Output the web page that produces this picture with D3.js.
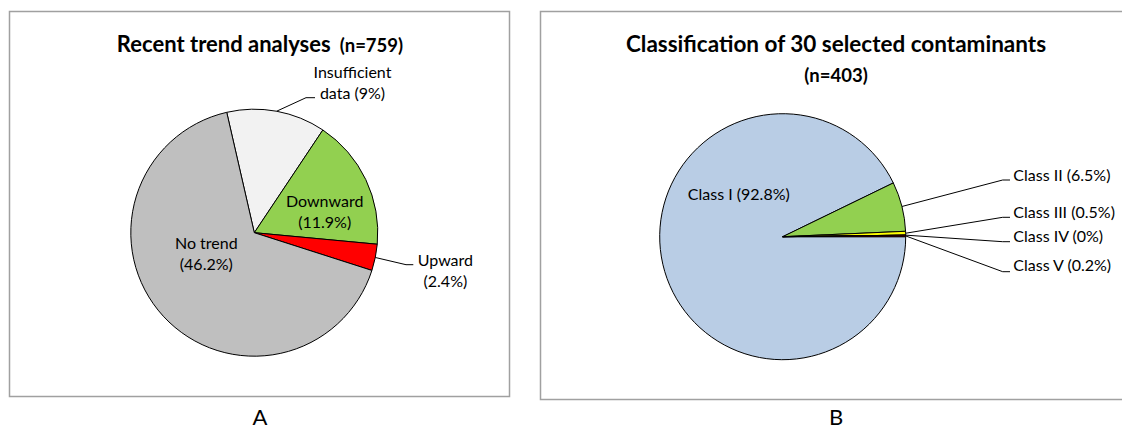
<!DOCTYPE html>
<html>
<head>
<meta charset="utf-8">
<script src="https://cdn.jsdelivr.net/npm/d3@7"></script>
<style>
  body { margin: 0; background: #fff; }
  text { font-family: Lato, "Open Sans", sans-serif; fill: #000; }
</style>
</head>
<body>
<div class="figure"></div>
<script>
// values
const trendLabels = ["Insufficient data", "Downward", "Upward", "No trend"];
const trendValues = [9, 11.9, 2.4, 46.2];
const trendColors = ["#f2f2f2", "#92d050", "#ff0000", "#bfbfbf"];

const classLabels = ["Class I", "Class II", "Class III", "Class IV", "Class V"];
const classValues = [92.8, 6.5, 0.5, 0, 0.2];
const classColors = ["#b9cde5", "#92d050", "#ffff00", "#ffc000", "#c00000"];

// where each label sits (center of first line), words before the line break
const trendLayout = [
  { x: 352.5, y: 72.5, breakAt: 1, elbow: [306, 97.7], end: [315, 97.7] },
  { x: 324.7, y: 201.5, breakAt: 1 },
  { x: 445.4, y: 260, breakAt: 1, elbow: [406, 264.7], end: [413.3, 264.7] },
  { x: 206.3, y: 243, breakAt: 2 }
];
const classLayout = [
  { x: 738.8, y: 194.3, anchor: "middle" },
  { x: 1013.3, y: 175.5, anchor: "start", elbow: [1002.7, 180], end: [1010, 180] },
  { x: 1013.3, y: 212.5, anchor: "start", elbow: [1002.7, 217.3], end: [1010, 217.3] },
  { x: 1013.3, y: 236.5, anchor: "start", elbow: [1002.7, 241.7], end: [1010, 241.7] },
  { x: 1013.3, y: 265.5, anchor: "start", elbow: [1002.7, 271.7], end: [1010, 271.7] }
];

const width = 1122;
const height = 430;
const lineH = 21;
const rad = Math.PI / 180;

const svg = d3.select('.figure')
  .append('svg')
  .attr('width', width)
  .attr('height', height)

// panel frames
svg.append("rect")
  .attr("x", 9.5).attr("y", 11.5)
  .attr("width", 500).attr("height", 385)
  .attr("fill", "none").attr("stroke", "#a0a0a0").attr("stroke-width", 1.5)
svg.append("rect")
  .attr("x", 540.5).attr("y", 11.5)
  .attr("width", 600).attr("height", 388)
  .attr("fill", "none").attr("stroke", "#a0a0a0").attr("stroke-width", 1.5)

function drawPie(values, colors, cx, cy, r, start) {
  const pie = d3.pie().sort(null).value(d => d)
    .startAngle(start * rad).endAngle(start * rad + 2 * Math.PI);
  const arcs = pie(values);
  const arc = d3.arc().innerRadius(0).outerRadius(r);
  const g = svg.append("g").attr("transform", `translate(${cx},${cy})`);
  g.selectAll("path")
    .data(arcs)
    .enter()
    .append("path")
    .attr("d", arc)
    .attr("fill", (d, i) => colors[i])
    .attr("stroke", "#000")
    .attr("stroke-width", 1)
    .attr("stroke-linejoin", "round")
  return arcs;
}

// leader line from the pie rim at mid angle to the label
function leader(a, cx, cy, r, lay) {
  const mid = (a.startAngle + a.endAngle) / 2;
  const p0 = [cx + r * Math.sin(mid), cy - r * Math.cos(mid)];
  svg.append("polyline")
    .attr("points", [p0, lay.elbow, lay.end].map(p => p.join(",")).join(" "))
    .attr("fill", "none")
    .attr("stroke", "#000")
    .attr("stroke-width", 1)
}

// A: recent trend analyses
const A = { cx: 254.3, cy: 232.7, r: 123.5 };
const trendArcs = drawPie(trendValues, trendColors, A.cx, A.cy, A.r, -12.9);

trendLayout.forEach((lay, i) => {
  if (lay.elbow) leader(trendArcs[i], A.cx, A.cy, A.r, lay);
  const words = (trendLabels[i] + " (" + trendValues[i] + "%)").split(" ");
  const lines = [words.slice(0, lay.breakAt).join(" "), words.slice(lay.breakAt).join(" ")];
  const t = svg.append("text")
    .attr("text-anchor", "middle")
    .attr("font-size", 16)
  lines.forEach((s, k) => {
    t.append("tspan")
      .attr("x", lay.x)
      .attr("y", lay.y + k * lineH)
      .attr("dy", "0.35em")
      .text(s)
  });
});

const titleA = svg.append("text")
  .attr("x", 260).attr("y", 52)
  .attr("text-anchor", "middle")
  .attr("font-weight", "bold")
titleA.append("tspan").attr("font-size", 22).text("Recent trend analyses")
titleA.append("tspan").attr("font-size", 18.5).attr("dx", 9).text("(n=759)")

// B: classification of contaminants
const B = { cx: 782.7, cy: 236.7, r: 123 };
const classArcs = drawPie(classValues, classColors, B.cx, B.cy, B.r, 90);

classLayout.forEach((lay, i) => {
  if (lay.elbow) leader(classArcs[i], B.cx, B.cy, B.r, lay);
  svg.append("text")
    .attr("x", lay.x)
    .attr("y", lay.y)
    .attr("dy", "0.35em")
    .attr("text-anchor", lay.anchor)
    .attr("font-size", 16)
    .text(classLabels[i] + " (" + classValues[i] + "%)")
});

svg.append("text")
  .attr("x", 836).attr("y", 52)
  .attr("text-anchor", "middle")
  .attr("font-weight", "bold")
  .attr("font-size", 22.5)
  .text("Classification of 30 selected contaminants")
svg.append("text")
  .attr("x", 836).attr("y", 82)
  .attr("text-anchor", "middle")
  .attr("font-weight", "bold")
  .attr("font-size", 18.5)
  .text("(n=403)")

// panel letters
svg.selectAll("text.panel")
  .data(["A", "B"])
  .enter()
  .append("text")
  .attr("class", "panel")
  .attr("x", (d, i) => i ? 836 : 260)
  .attr("y", 425)
  .attr("text-anchor", "middle")
  .attr("font-size", 22)
  .text(d => d)
</script>
</body>
</html>
